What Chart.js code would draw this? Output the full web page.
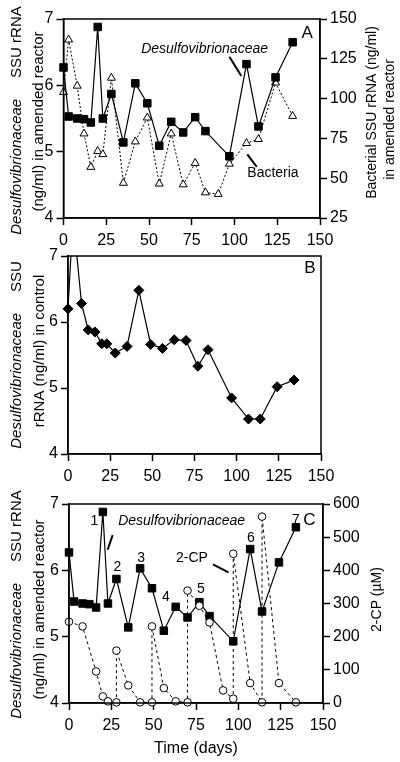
<!DOCTYPE html>
<html lang="en">
<head>
<meta charset="UTF-8">
<title>Desulfovibrionaceae SSU rRNA</title>
<script src="https://cdn.jsdelivr.net/npm/chart.js"></script>
<style>
  body { margin: 0; background: #fff; }
  canvas { position: absolute; left: 0; }
</style>
</head>
<body>
<canvas id="chartA" width="400" height="250" style="top:0px"></canvas>
<canvas id="chartB" width="400" height="250" style="top:240px"></canvas>
<canvas id="chartC" width="400" height="272" style="top:490px"></canvas>
<script>
// sampling days (same for all Desulfovibrionaceae series)
const days = [0, 3, 8, 12, 16, 20, 23, 28, 35, 42, 49, 56, 63, 70, 77, 83, 97, 107, 114, 124, 134];
// Desulfovibrionaceae SSU rRNA (ng/ml), amended reactor (panels A and C)
const desulfoAmended = [6.27, 5.53, 5.50, 5.49, 5.44, 6.88, 5.50, 5.87, 5.14, 6.03, 5.73, 5.09, 5.45, 5.29, 5.52, 5.31, 4.93, 6.32, 5.38, 6.12, 6.65];
// Desulfovibrionaceae SSU rRNA (ng/ml), control (panel B)
const desulfoControl = [6.20, 7.6, 6.28, 5.88, 5.85, 5.67, 5.67, 5.53, 5.63, 6.48, 5.66, 5.60, 5.73, 5.72, 5.33, 5.58, 4.85, 4.53, 4.53, 5.02, 5.12];
// Bacterial SSU rRNA (ng/ml), amended reactor
const bacteriaDays = [0, 3, 8, 12, 16, 20, 23, 28, 35, 42, 49, 56, 63, 70, 77, 83, 90.5, 97, 107, 114, 124, 134];
const bacteria = [104, 137, 108, 78, 57, 67, 65, 113, 47, 73, 88, 46.5, 78, 46, 59.5, 41, 40, 59, 72, 74.5, 110, 89];
// 2-CP (uM); repeated days are the re-additions
const cpDays = [0, 8, 16, 20, 23, 28, 28, 35, 42, 49, 49, 56, 63, 70, 70, 77, 83, 91, 97, 97, 107, 114, 114, 124, 134];
const cp = [245, 231, 95, 20, 5, 2, 158, 53, 2, 2, 231, 45, 5, 2, 339, 293, 243, 38, 13, 450, 60, 2, 562, 60, 2];
// tick labels
const dayTicks = [0, 25, 50, 75, 100, 125, 150];
const rnaTicks = [4, 5, 6, 7];
const bactTicks = [25, 50, 75, 100, 125, 150];
const cpTicks = [0, 100, 200, 300, 400, 500, 600];

const FONT = "'Liberation Sans', Arial, Helvetica, sans-serif";
Chart.defaults.font.family = FONT;
Chart.defaults.color = '#000';

const pts = (xs, ys) => xs.map((x, i) => ({ x: x, y: ys[i] }));

function axis(min, max, ticks, extra, pad) {
  return Object.assign({
    type: 'linear', min: min, max: max,
    afterBuildTicks: s => { s.ticks = ticks.map(v => ({ value: v })); },
    ticks: { font: { size: 16 }, color: '#000', padding: pad || 3 },
    grid: { drawOnChartArea: false, drawTicks: true, tickLength: 7, tickColor: '#000', tickWidth: 1.5 },
    border: { display: true, color: '#000', width: 1.5 }
  }, extra);
}

function fixSize(prop, v) { return s => { s[prop] = v; }; }

// frame, axis titles and labels
const decor = {
  id: 'decor',
  afterDatasetsDraw(chart, args, opts) {
    const ctx = chart.ctx, a = chart.chartArea;
    const xs = chart.scales.x, ys = chart.scales.y;
    ctx.save();
    ctx.strokeStyle = '#000';
    ctx.lineWidth = 1.5;
    ctx.strokeRect(a.left, a.top, a.right - a.left, a.bottom - a.top);
    ctx.fillStyle = '#000';
    ctx.textAlign = 'center';
    ctx.textBaseline = 'middle';
    (opts.labels || []).forEach(t => {
      ctx.font = t.font;
      ctx.fillText(t.text, xs.getPixelForValue(t.x), ys.getPixelForValue(t.y));
    });
    ctx.lineWidth = 2;
    (opts.pointers || []).forEach(p => {
      ctx.beginPath();
      ctx.moveTo(xs.getPixelForValue(p[0]), ys.getPixelForValue(p[1]));
      ctx.lineTo(xs.getPixelForValue(p[2]), ys.getPixelForValue(p[3]));
      ctx.stroke();
    });
    const cy = (a.top + a.bottom) / 2;
    (opts.titles || []).forEach(t => {
      ctx.save();
      ctx.translate(t.x, cy + (t.dy || 0));
      ctx.rotate(-Math.PI / 2);
      ctx.textAlign = 'left';
      let total = 0;
      t.parts.forEach(p => { ctx.font = p[1]; p.w = ctx.measureText(p[0]).width; total += p.w; });
      let x = -total / 2;
      t.parts.forEach(p => { ctx.font = p[1]; ctx.fillText(p[0], x, 0); x += p.w; });
      ctx.restore();
    });
    ctx.restore();
  }
};

const IT = 'italic 15px ' + FONT, RG = '15px ' + FONT, R14 = '14px ' + FONT;

// Panel A
new Chart(document.getElementById('chartA'), {
  type: 'line',
  data: {
    datasets: [{
      data: pts(days, desulfoAmended), yAxisID: 'y',
      borderColor: '#000', borderWidth: 1.2, pointStyle: 'rect', pointRadius: 5.3,
      pointBackgroundColor: '#000', pointBorderColor: '#000', pointBorderWidth: 1,
      tension: 0, clip: 10
    }, {
      data: pts(bacteriaDays, bacteria), yAxisID: 'y2',
      borderColor: '#000', borderWidth: 1, borderDash: [2, 2], pointStyle: 'triangle', pointRadius: 4.6,
      pointBackgroundColor: '#fff', pointBorderColor: '#000', pointBorderWidth: 1,
      tension: 0, clip: 10
    }]
  },
  options: {
    responsive: false, animation: false, events: [],
    layout: { padding: { top: 19, left: 0, right: 0, bottom: 0 } },
    plugins: {
      legend: { display: false }, tooltip: { enabled: false },
      decor: {
        labels: [
          { text: 'A', x: 142.5, y: 6.79, font: '17px ' + FONT },
          { text: 'Desulfovibrionaceae', x: 82.5, y: 6.55, font: 'italic 14px ' + FONT },
          { text: 'Bacteria', x: 122.5, y: 4.68, font: R14 }
        ],
        pointers: [[97, 6.43, 104, 6.14], [107.5, 4.96, 113, 4.77]],
        titles: [
          { x: 17, dy: 2, parts: [['Desulfovibrionaceae', IT], ['     SSU rRNA', RG]] },
          { x: 39, dy: 3, parts: [['(ng/ml) in amended reactor', RG]] },
          { x: 372, dy: -6, parts: [['Bacterial SSU rRNA (ng/ml)', R14]] },
          { x: 390, dy: 1, parts: [['in amended reactor', R14]] }
        ]
      }
    },
    scales: {
      x: axis(0, 150, dayTicks, { position: 'bottom', afterFit: fixSize('height', 32) }, 6),
      y: axis(4, 7, rnaTicks, { position: 'left', afterFit: fixSize('width', 63.5) }),
      y2: axis(25, 150, bactTicks, { position: 'right', afterFit: fixSize('width', 80) })
    }
  },
  plugins: [decor]
});

// Panel B
new Chart(document.getElementById('chartB'), {
  type: 'line',
  data: {
    datasets: [{
      data: pts(days, desulfoControl),
      borderColor: '#000', borderWidth: 1.2, pointStyle: 'rectRot', pointRadius: 5,
      pointBackgroundColor: '#000', pointBorderColor: '#000', pointBorderWidth: 1,
      tension: 0, clip: { left: 10, right: 10, top: 0, bottom: 10 }
    }]
  },
  options: {
    responsive: false, animation: false, events: [],
    layout: { padding: { top: 16, left: 0, right: 79, bottom: 0 } },
    plugins: {
      legend: { display: false }, tooltip: { enabled: false },
      decor: {
        labels: [{ text: 'B', x: 143.5, y: 6.81, font: '17px ' + FONT }],
        titles: [
          { x: 17, dy: 0, parts: [['Desulfovibrionaceae', IT], ['     SSU', RG]] },
          { x: 40, dy: -4, parts: [['rRNA (ng/ml) in control', RG]] }
        ]
      }
    },
    scales: {
      x: axis(0, 150, dayTicks, { position: 'bottom', afterFit: fixSize('height', 36) }, 6),
      y: axis(4, 7, rnaTicks, { position: 'left', afterFit: fixSize('width', 68) })
    }
  },
  plugins: [decor]
});

// Panel C
new Chart(document.getElementById('chartC'), {
  type: 'line',
  data: {
    datasets: [{
      data: pts(cpDays, cp), yAxisID: 'y2',
      borderColor: '#000', borderWidth: 1, borderDash: [3, 3], pointStyle: 'circle', pointRadius: 3.8,
      pointBackgroundColor: '#fff', pointBorderColor: '#000', pointBorderWidth: 1,
      tension: 0, clip: 10
    }, {
      data: pts(days, desulfoAmended), yAxisID: 'y',
      borderColor: '#000', borderWidth: 1.2, pointStyle: 'rect', pointRadius: 5.3,
      pointBackgroundColor: '#000', pointBorderColor: '#000', pointBorderWidth: 1,
      tension: 0, clip: 10
    }]
  },
  options: {
    responsive: false, animation: false, events: [],
    layout: { padding: { top: 14, left: 0, right: 0, bottom: 0 } },
    plugins: {
      legend: { display: false }, tooltip: { enabled: false },
      decor: {
        labels: [
          { text: '1', x: 15, y: 6.74, font: R14 },
          { text: 'Desulfovibrionaceae', x: 66.5, y: 6.74, font: 'italic 14px ' + FONT },
          { text: '2', x: 28.6, y: 6.05, font: R14 },
          { text: '3', x: 42.6, y: 6.18, font: R14 },
          { text: '4', x: 57.2, y: 5.60, font: R14 },
          { text: '5', x: 77.9, y: 5.72, font: R14 },
          { text: '6', x: 107.4, y: 6.48, font: R14 },
          { text: '7', x: 134, y: 6.76, font: R14 },
          { text: 'C', x: 142, y: 6.76, font: '17px ' + FONT },
          { text: '2-CP', x: 72.6, y: 6.18, font: R14 }
        ],
        pointers: [[25.8, 6.53, 22.8, 6.31], [85, 6.09, 94.2, 5.97]],
        titles: [
          { x: 17, dy: 1, parts: [['Desulfovibrionaceae', IT], ['     SSU rRNA', RG]] },
          { x: 40, dy: 6, parts: [['(ng/ml) in amended reactor', RG]] },
          { x: 377, dy: -4, parts: [['2-CP (\u00b5M)', R14]] }
        ]
      }
    },
    scales: {
      x: axis(0, 150, dayTicks, {
        position: 'bottom', afterFit: fixSize('height', 59),
        title: { display: true, text: 'Time (days)', font: { size: 16 }, color: '#000', padding: { top: 0, bottom: 4 } }
      }, 6),
      y: axis(4, 7, rnaTicks, { position: 'left', afterFit: fixSize('width', 69) }),
      y2: axis(0, 600, cpTicks, { position: 'right', afterFit: fixSize('width', 77) })
    }
  },
  plugins: [decor]
});
</script>
</body>
</html>
